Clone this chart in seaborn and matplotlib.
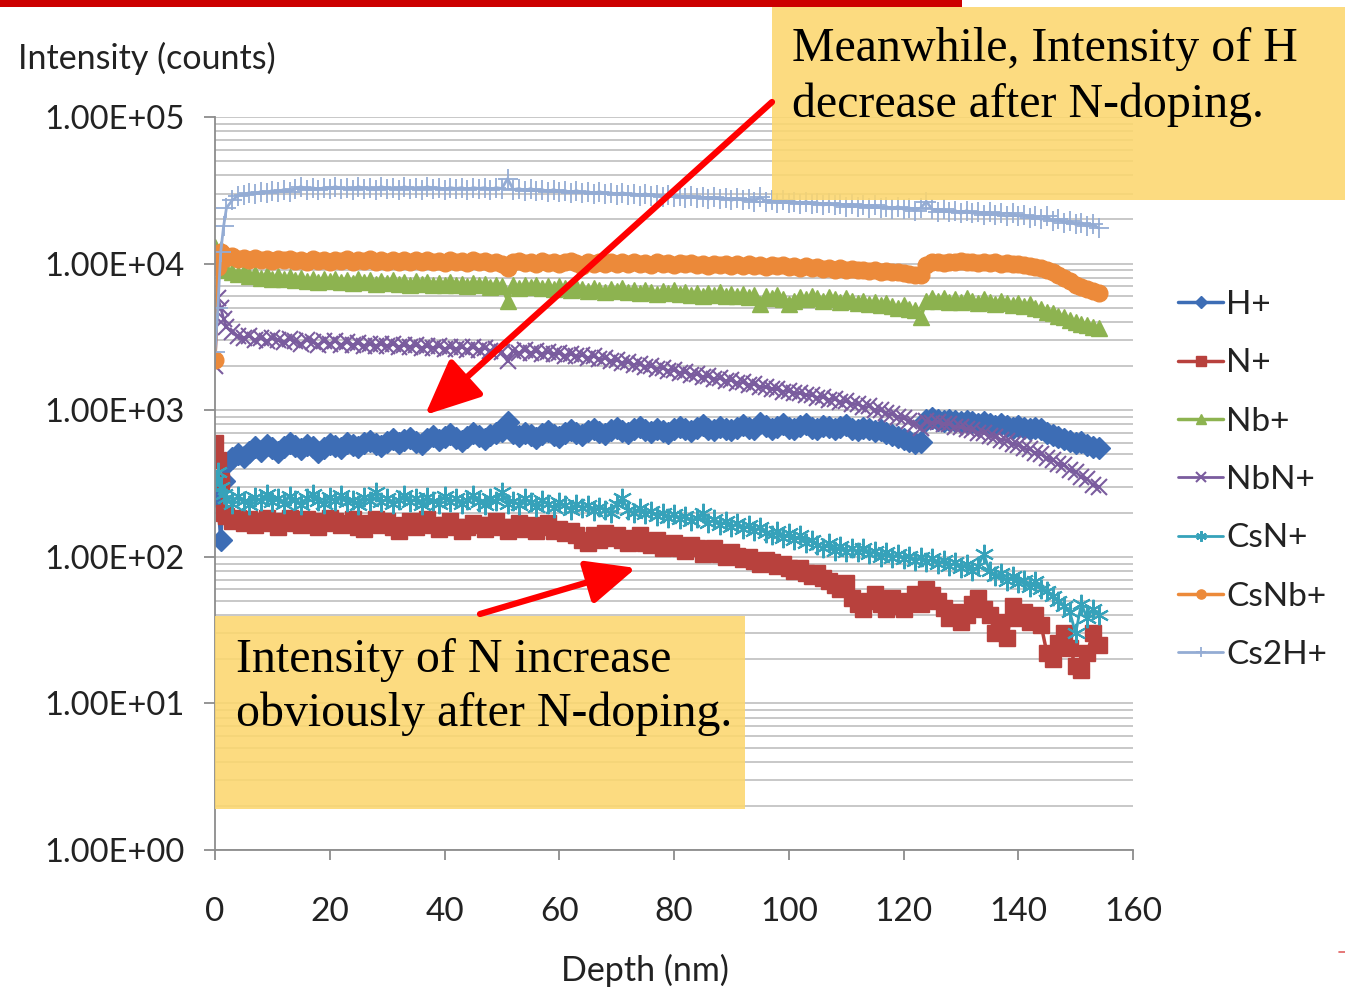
import numpy as np
import matplotlib
matplotlib.use("Agg")
import matplotlib.pyplot as plt
import seaborn as sns
from matplotlib.patches import Rectangle, FancyArrowPatch, ArrowStyle
from matplotlib.lines import Line2D
from matplotlib.ticker import LogLocator, FuncFormatter, NullFormatter, FixedLocator

# ---------------------------------------------------------------- data
depth = [0, 0.5, 1, 1.5] + list(range(2, 155))

h_plus = [310, 250, 130, 330,
    430, 470, 500, 480, 520, 560, 530, 580, 550, 520,
    560, 600, 570, 540, 580, 560, 520, 550, 590, 570,
    550, 600, 580, 560, 600, 620, 590, 570, 610, 640,
    600, 630, 650, 610, 590, 640, 670, 630, 660, 690,
    650, 620, 660, 700, 670, 640, 680, 700, 720, 830,
    700, 670, 700, 680, 650, 690, 720, 680, 660, 700,
    730, 700, 680, 720, 750, 710, 690, 730, 760, 720,
    700, 740, 770, 730, 710, 750, 720, 700, 740, 770,
    740, 720, 760, 790, 750, 730, 770, 750, 730, 760,
    790, 760, 740, 820, 780, 750, 770, 800, 760, 740,
    780, 800, 760, 740, 780, 770, 740, 770, 790, 750,
    730, 760, 740, 720, 730, 700, 680, 660, 640, 620,
    600, 610, 860, 880, 860, 840, 860, 850, 830, 850,
    830, 810, 830, 800, 780, 800, 780, 760, 780, 760,
    740, 760, 740, 700, 680, 660, 640, 620, 600, 610,
    580, 560, 550]

n_plus = [600, 460, 330, 200,
    190, 175, 185, 170, 180, 165, 175, 185, 170, 160,
    175, 185, 170, 165, 180, 175, 160, 170, 185, 175,
    165, 170, 180, 160, 155, 170, 180, 165, 175, 160,
    150, 165, 175, 160, 170, 180, 165, 155, 165, 175,
    160, 150, 160, 170, 165, 155, 165, 175, 160, 150,
    160, 170, 155, 165, 150, 160, 170, 150, 155, 145,
    150, 140, 130, 125, 140, 130, 145, 135, 140, 130,
    125, 135, 140, 125, 120, 130, 115, 120, 125, 115,
    110, 120, 115, 105, 110, 115, 105, 100, 108, 102,
    96, 100, 94, 90, 95, 92, 86, 90, 84, 80,
    84, 78, 74, 78, 72, 68, 64, 60, 66, 52,
    48, 44, 50, 56, 48, 44, 52, 46, 44, 50,
    56, 48, 60, 55, 50, 45, 38, 42, 36, 40,
    48, 52, 44, 40, 30, 36, 28, 46, 38, 42,
    36, 40, 34, 22, 20, 26, 30, 24, 18, 17,
    22, 30, 25]

nb_plus = [13000, 11000, 12500, 9500,
    9000, 8800, 8500, 8700, 8200, 8500, 8000, 8300, 7900, 8200,
    7800, 8100, 7700, 8000, 7600, 7900, 7500, 7800, 7600, 7900,
    7500, 7700, 7400, 7800, 7500, 7700, 7300, 7600, 7400, 7700,
    7300, 7500, 7200, 7600, 7300, 7500, 7100, 7400, 7200, 7500,
    7100, 7300, 7000, 7400, 7100, 7300, 6900, 7200, 7000, 5600,
    7100, 6800, 7100, 6900, 7200, 6800, 7000, 6700, 7000, 6800,
    6600, 6900, 6700, 6500, 6800, 6600, 6400, 6700, 6500, 6800,
    6400, 6600, 6300, 6600, 6400, 6200, 6500, 6300, 6600, 6200,
    6400, 6100, 6300, 6000, 6300, 6100, 6400, 6000, 6200, 6000,
    6200, 5900, 6100, 5300, 6000, 5800, 6100, 5700, 5300, 5600,
    5900, 5700, 6000, 5800, 5600, 5900, 5700, 5500, 5800, 5600,
    5400, 5600, 5300, 5500, 5200, 5400, 5100, 5000, 5200, 4900,
    4800, 4300, 5600, 5800, 5600, 5800, 5500, 5700, 5500, 5800,
    5600, 5400, 5700, 5500, 5300, 5600, 5400, 5200, 5400, 5100,
    5300, 5000, 4900, 4700, 4600, 4400, 4300, 4100, 4000, 3900,
    3800, 3700, 3650]

nbn_plus = [2000, 5800, 5000, 4200,
    3700, 3400, 3200, 3100, 3200, 3000, 3100, 2950, 3100, 3000,
    2900, 3050, 2950, 2850, 3000, 2900, 2800, 2950, 2850, 2950,
    2800, 2900, 2780, 2880, 2760, 2850, 2750, 2850, 2720, 2820,
    2700, 2800, 2680, 2780, 2660, 2750, 2640, 2740, 2620, 2700,
    2600, 2700, 2580, 2680, 2560, 2650, 2540, 2620, 2500, 2150,
    2550, 2450, 2560, 2440, 2520, 2420, 2500, 2400, 2460, 2360,
    2430, 2330, 2380, 2280, 2330, 2220, 2270, 2160, 2200, 2100,
    2140, 2040, 2080, 1980, 2010, 1920, 1950, 1860, 1880, 1800,
    1820, 1740, 1760, 1680, 1700, 1630, 1650, 1580, 1600, 1530,
    1550, 1480, 1500, 1430, 1450, 1390, 1400, 1340, 1350, 1300,
    1310, 1260, 1270, 1220, 1230, 1180, 1190, 1140, 1150, 1100,
    1100, 1050, 1060, 1000, 1000, 950, 940, 900, 880, 840,
    800, 760, 840, 820, 830, 800, 800, 770, 770, 740,
    730, 700, 700, 670, 660, 630, 620, 590, 580, 550,
    540, 510, 500, 470, 460, 430, 420, 390, 380, 350,
    340, 310, 300]

csn_plus = [330, 380, 300, 270,
    250, 230, 260, 240, 225, 255, 240, 270, 235, 250,
    230, 260, 245, 225, 250, 270, 240, 230, 255, 240,
    265, 235, 245, 225, 255, 240, 275, 235, 250, 230,
    245, 265, 235, 250, 225, 255, 240, 230, 260, 235,
    250, 228, 245, 265, 235, 225, 250, 240, 275, 230,
    240, 225, 250, 235, 220, 245, 230, 215, 235, 225,
    210, 230, 215, 225, 205, 220, 210, 200, 230, 250,
    210, 200, 215, 195, 205, 190, 200, 185, 195, 180,
    190, 175, 185, 200, 170, 180, 165, 175, 160, 170,
    155, 165, 150, 160, 145, 140, 150, 135, 145, 130,
    140, 125, 130, 120, 115, 125, 110, 118, 108, 114,
    108, 115, 104, 110, 100, 108, 98, 105, 96, 102,
    94, 100, 92, 98, 90, 95, 86, 92, 84, 90,
    80, 86, 105, 80, 74, 78, 68, 74, 66, 70,
    62, 68, 60, 58, 54, 50, 46, 42, 30, 48,
    38, 44, 40]

csnb_plus = [2200, 9500, 12000, 11500,
    11000, 11200, 10800, 11000, 10600, 10900, 10500, 10800, 10400, 10700,
    10500, 10800, 10400, 10600, 10300, 10700, 10400, 10600, 10300, 10600,
    10400, 10700, 10300, 10600, 10400, 10700, 10300, 10500, 10200, 10600,
    10300, 10500, 10200, 10600, 10300, 10500, 10200, 10400, 10100, 10500,
    10200, 10400, 10100, 10500, 10200, 10400, 10100, 10300, 9900, 9300,
    10200, 10400, 10100, 10300, 10000, 10400, 10100, 10300, 10000, 10200,
    10400, 10100, 9700, 10200, 10000, 10300, 10000, 10200, 9900, 10300,
    10000, 10200, 9900, 10100, 9800, 10200, 9900, 10100, 9800, 10100,
    9900, 10100, 9800, 10000, 9700, 10000, 9800, 10000, 9700, 9900,
    9700, 9900, 9600, 9800, 9500, 9800, 9600, 9800, 9500, 9700,
    9400, 9600, 9300, 9500, 9200, 9400, 9100, 9300, 9100, 9200,
    9000, 9100, 8900, 9000, 8800, 8900, 8700, 8800, 8600, 8500,
    8400, 8300, 9800, 10200, 10300, 10100, 10300, 10200, 10400, 10200,
    10300, 10100, 10300, 10100, 10200, 10000, 10100, 9900, 10000, 9800,
    9700, 9500, 9400, 9100, 8800, 8400, 8000, 7600, 7200, 6900,
    6700, 6500, 6300]

cs2h_plus = [2500, 5000, 12000, 18000,
    24000, 27000, 29000, 29500, 30500, 30000, 31000, 30500, 31500, 31000,
    32000, 31000, 32500, 33500, 32000, 33000, 32000, 33000, 32500, 33500,
    32500, 33000, 32000, 33500, 32500, 33000, 32000, 33500, 32500, 33000,
    32000, 33500, 32500, 33000, 32000, 33500, 32500, 33000, 32000, 33000,
    32500, 33000, 32000, 33000, 32500, 33000, 32000, 33000, 32500, 38000,
    32000, 32500, 31500, 32500, 31500, 32000, 31000, 32000, 31000, 31500,
    30500, 31500, 30500, 31000, 30000, 31000, 30000, 30500, 29500, 30500,
    29500, 30000, 29000, 30000, 29000, 29500, 28500, 29500, 28500, 29000,
    28000, 29000, 28000, 28500, 27500, 28500, 27500, 28000, 27000, 28000,
    27000, 27500, 26500, 28500, 26500, 27000, 26000, 27000, 26000, 26500,
    25500, 26500, 25500, 26000, 25000, 26000, 25000, 25500, 24500, 25500,
    24500, 25000, 24000, 25000, 24000, 24500, 23500, 24500, 23500, 24000,
    23000, 24000, 26500, 23500, 22500, 23500, 22500, 23000, 22000, 23000,
    22000, 22500, 21500, 22500, 21500, 22000, 21000, 22000, 21000, 21500,
    20500, 21000, 20000, 21000, 19500, 20000, 19000, 19500, 18500, 19000,
    18000, 18500, 17500]

labels = ["H+", "N+", "Nb+", "NbN+", "CsN+", "CsNb+", "Cs2H+"]
values = [h_plus, n_plus, nb_plus, nbn_plus, csn_plus, csnb_plus, cs2h_plus]

x_ticks = [0, 20, 40, 60, 80, 100, 120, 140, 160]

# ---------------------------------------------------------------- styles
colors = ["#3D6DB5", "#B8413D", "#8DB350", "#7A5C9E", "#36A2BA", "#EC8A3A", "#94ACD4"]
markers = ["D", "s", "^", "x", (6, 2, 0), "o", "+"]
msizes = [11, 12, 12, 12, 14, 12, 14]
medges = [1, 1, 1, 1.5, 1.5, 1, 1.3]
lsizes = [2.5, 2.5, 2.5, 2, 2, 2.5, 2]

sns.set_theme(style="white")
plt.rcParams["font.family"] = ["Lato", "DejaVu Sans"]
TXT = "#222222"
AXC = "#8C8C8C"
FS = 24

W, H = 1345, 996
fig = plt.figure(figsize=(W / 100, H / 100), dpi=100)
fig.patch.set_facecolor("white")
ax = fig.add_axes([215 / W, 1 - 850 / H, (1133 - 215) / W, (850 - 117) / H])
ax.set_facecolor("white")

for lab, vals, c, m, ms, mew, lw in zip(labels, values, colors, markers, msizes, medges, lsizes):
    sns.lineplot(x=depth, y=vals, ax=ax, color=c, marker=m, markersize=ms,
                 markeredgewidth=mew, markeredgecolor=c, markerfacecolor=c,
                 linewidth=lw, label=lab, estimator=None, sort=False)

ax.set_yscale("log")
ax.set_ylim(1, 1e5)
ax.set_xlim(0, 160)
ax.yaxis.set_major_locator(LogLocator(base=10, numticks=10))
ax.yaxis.set_major_formatter(FuncFormatter(lambda v, _: f"{v:.2E}"))
ax.yaxis.set_minor_locator(LogLocator(base=10, subs=np.arange(2, 10), numticks=20))
ax.yaxis.set_minor_formatter(NullFormatter())
ax.xaxis.set_major_locator(FixedLocator(x_ticks))

ax.grid(False)
ax.yaxis.grid(True, which="both", color="#C4C4C4", linewidth=1.3)
ax.set_axisbelow(True)

for side in ("top", "right"):
    ax.spines[side].set_visible(False)
for side in ("left", "bottom"):
    ax.spines[side].set_color(AXC)
    ax.spines[side].set_linewidth(1.3)

ax.tick_params(axis="y", which="major", direction="out", length=8, width=1.3,
               color=AXC, labelsize=23.5, labelcolor=TXT, pad=14, left=True)
ax.tick_params(axis="y", which="minor", length=0)
ax.tick_params(axis="x", direction="out", length=7, width=1.3, color=AXC,
               labelsize=FS, labelcolor=TXT, pad=27, bottom=True)
ax.set_xlabel("")
ax.set_ylabel("")

fig.text(18 / W, 1 - 58 / H, "Intensity (counts)", fontsize=FS + 0.5, color=TXT,
         ha="left", va="center")
fig.text(645 / W, 1 - 970 / H, "Depth (nm)", fontsize=FS + 0.5, color=TXT,
         ha="center", va="center")

handles, hl = ax.get_legend_handles_labels()
ax.legend(handles, hl, loc="upper left", bbox_to_anchor=(1178 / W, 1 - 290 / H),
          bbox_transform=fig.transFigure, frameon=False, fontsize=FS,
          handlelength=1.35, handletextpad=0.1, labelspacing=0.85,
          borderaxespad=0, borderpad=0, markerscale=0.55, labelcolor=TXT)

# ---------------------------------------------------------------- callouts
box_color = "#FCD76E"
fig.add_artist(Rectangle((772 / W, 1 - 200 / H), (W - 772) / W, 193 / H,
                         transform=fig.transFigure, facecolor=box_color,
                         edgecolor="none", alpha=0.88, zorder=5))
fig.add_artist(Rectangle((215 / W, 1 - 809 / H), (745 - 215) / W, (809 - 616) / H,
                         transform=fig.transFigure, facecolor=box_color,
                         edgecolor="none", alpha=0.88, zorder=5))

serif = ["Liberation Serif", "DejaVu Serif"]
fig.text(792 / W, 1 - 77 / H, "Meanwhile, Intensity of H\ndecrease after N-doping.",
         fontsize=34.5, family=serif, color="black", ha="left", va="center",
         linespacing=1.32, zorder=6)
fig.text(236 / W, 1 - 687 / H, "Intensity of N increase\nobviously after N-doping.",
         fontsize=34.5, family=serif, color="black", ha="left", va="center",
         linespacing=1.3, zorder=6)

fig.add_artist(FancyArrowPatch((772 / W, 1 - 102 / H), (425 / W, 1 - 415 / H),
                               transform=fig.transFigure,
                               arrowstyle=ArrowStyle("-|>", head_length=1.0, head_width=0.45),
                               mutation_scale=34, color="#FF0000", linewidth=4.5,
                               shrinkA=0, shrinkB=0, zorder=7))
fig.add_artist(FancyArrowPatch((480 / W, 1 - 614 / H), (636 / W, 1 - 568 / H),
                               transform=fig.transFigure,
                               arrowstyle=ArrowStyle("-|>", head_length=1.0, head_width=0.45),
                               mutation_scale=30, color="#FF0000", linewidth=4.5,
                               shrinkA=0, shrinkB=0, zorder=7))

# slide header bar and footer tick
fig.add_artist(Rectangle((0, 1 - 7 / H), 962 / W, 7 / H, transform=fig.transFigure,
                         facecolor="#CC0000", edgecolor="none", zorder=8))
fig.add_artist(Line2D([1339 / W, 1345 / W], [1 - 952 / H, 1 - 952 / H],
                      transform=fig.transFigure, color="#E06060", linewidth=1.2))

fig.savefig("out.png", dpi=100, facecolor="white")
